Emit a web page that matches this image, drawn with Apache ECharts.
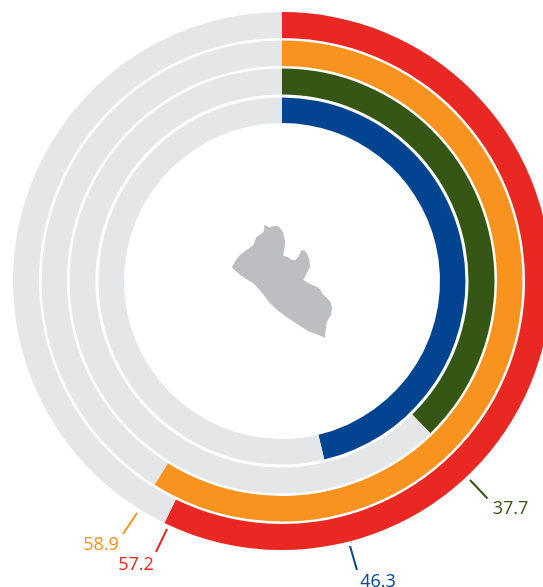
<!DOCTYPE html>
<html><head><meta charset="utf-8">
<script src="https://cdn.jsdelivr.net/npm/echarts@6/dist/echarts.min.js"></script>
<style>html,body{margin:0;padding:0;background:#fff}#c{width:543px;height:587px}</style>
</head><body><div id="c"></div>
<script>
const ringNames = ['Red','Orange','Green','Blue'];
const ringValues = [57.2, 58.9, 37.7, 46.3];
const ringColors = ['#E92824','#F8931F','#365615','#034491'];
const trackColor = '#E5E6E8';
const ringRadii = [[243,269],[215,240.5],[186.5,212.5],[158,183.5]];
const labelLines = [[[167,529],[156,552]],[[137,513],[123,534]],[[470,480],[487.5,498.5]],[[350,546],[357,570]]];
const labelPos = [[136,565],[101,545],[510.5,509],[378,582]];
const countryOutline = [[35,157],[48,135],[62,118],[80,105],[100,90],[106,75],[110,65],[122,58],[130,52],[133,40],[132,30],[140,32],[148,38],[158,34],[170,32],[180,38],[188,50],[193,68],[196,85],[192,105],[190,122],[203,126],[215,135],[225,136],[235,125],[245,105],[255,108],[263,120],[268,135],[270,155],[262,172],[250,195],[270,207],[290,215],[300,222],[308,238],[322,250],[332,262],[336,280],[333,300],[322,318],[318,335],[315,368],[290,358],[268,350],[235,330],[205,310],[175,288],[150,265],[125,232],[100,205],[80,193],[60,180]];
const chart = echarts.init(document.getElementById('c'),null,{renderer:'canvas'});
const series = ringValues.map((v,i)=>({
  type:'pie',name:ringNames[i],center:[282,281],radius:ringRadii[i],startAngle:90,clockwise:true,
  silent:true,animation:false,label:{show:false},labelLine:{show:false},
  data:[{value:v,itemStyle:{color:ringColors[i]}},{value:100-v,itemStyle:{color:trackColor}}]
}));
const graphic = [{type:'polygon',silent:true,shape:{points:countryOutline.map(p=>[p[0]/3+220,p[1]/3+215])},style:{fill:'#BCBEC2'}}];
ringValues.forEach((v,i)=>{
  graphic.push({type:'line',silent:true,shape:{x1:labelLines[i][0][0],y1:labelLines[i][0][1],x2:labelLines[i][1][0],y2:labelLines[i][1][1]},style:{stroke:ringColors[i],lineWidth:2}});
  graphic.push({type:'text',silent:true,x:labelPos[i][0],y:labelPos[i][1],style:{text:String(v),fill:ringColors[i],font:'18px "Open Sans"',textAlign:'center',textVerticalAlign:'middle'}});
});
chart.setOption({animation:false,backgroundColor:'#fff',series,graphic});
</script></body></html>
